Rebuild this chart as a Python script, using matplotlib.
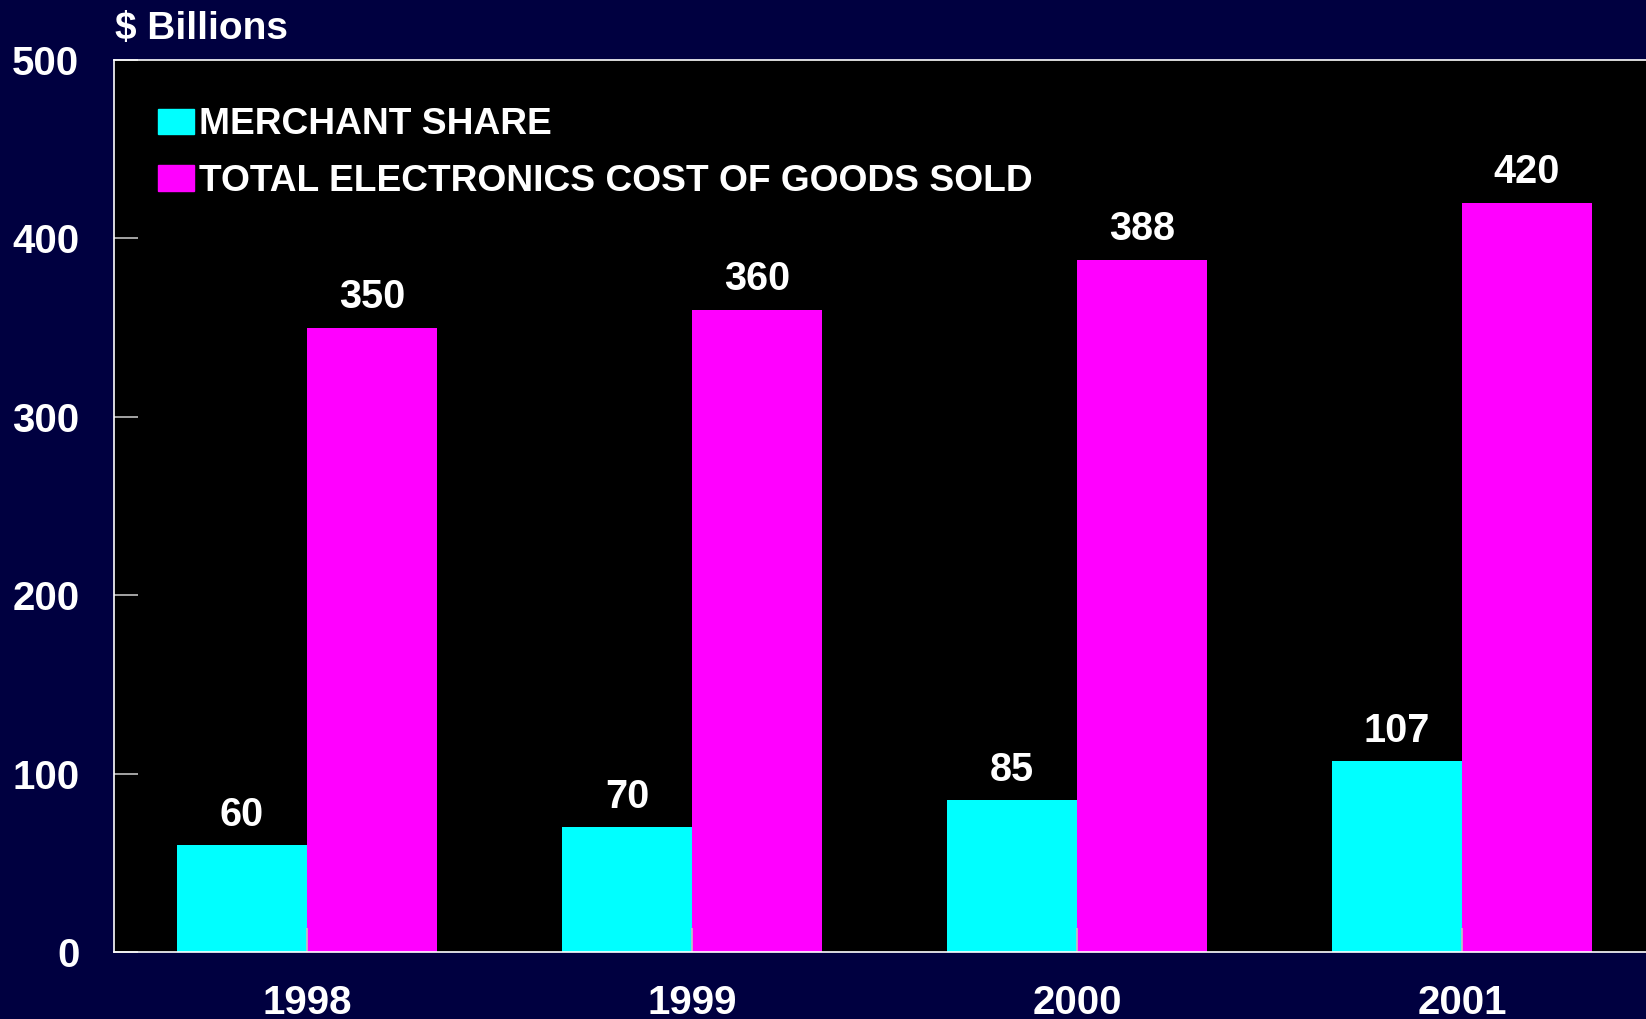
import numpy as np
import matplotlib.pyplot as plt
from matplotlib.patches import Patch

years = ['1998', '1999', '2000', '2001']
merchant = [60, 70, 85, 107]
total_cogs = [350, 360, 388, 420]
labels = ['MERCHANT SHARE', 'TOTAL ELECTRONICS COST OF GOODS SOLD']

plt.rcParams['font.family'] = 'Liberation Sans'
plt.rcParams['font.weight'] = 'bold'

bg = '#000040'
c1 = '#00FFFF'
c2 = '#FF00FF'

fig = plt.figure(figsize=(16.46, 10.19), dpi=100, facecolor=bg)
ax = fig.add_axes([114/1646, 1-952/1019, 1-114/1646, (952-60)/1019])
ax.set_facecolor('black')

x = np.arange(len(years))
w = 0.337
b1 = ax.bar(x - w/2, merchant, w, color=c1)
b2 = ax.bar(x + w/2, total_cogs, w, color=c2)

for bars, vals in [(b1, merchant), (b2, total_cogs)]:
    for r, v in zip(bars, vals):
        ax.annotate(str(v), (r.get_x() + r.get_width()/2, v), xytext=(0, 14),
                    textcoords='offset points', ha='center', va='baseline',
                    color='white', fontsize=28.5, fontweight='bold')

ax.set_xlim(-0.501, 3.478)
ax.set_ylim(0, 500)
ax.set_yticks([0, 100, 200, 300, 400, 500])
ax.set_xticks(x)
ax.set_xticklabels(years)
ax.tick_params(axis='y', direction='in', length=17, width=1.2, color='#C0C0C0',
               labelsize=29, labelcolor='white', pad=25)
ax.tick_params(axis='x', direction='in', length=17, width=1.2, color='#C0C0C0',
               labelsize=29, labelcolor='white', pad=23)
for s in ['left', 'bottom', 'top']:
    ax.spines[s].set_color('white')
    ax.spines[s].set_linewidth(1.2)
ax.spines['right'].set_visible(False)

handles = [Patch(color=c1), Patch(color=c2)]
leg = ax.legend(handles, labels, loc='upper left', bbox_to_anchor=(0.012, 0.976),
                frameon=False, fontsize=26.7, handlelength=0.95, handleheight=0.68,
                handletextpad=0.15, labelspacing=0.58, borderaxespad=0.3)
for t in leg.get_texts():
    t.set_color('white')
    t.set_fontweight('bold')

fig.text(115/1646, 1-39/1019, '$ Billions', color='white', fontsize=28,
         fontweight='bold', va='baseline', ha='left')

fig.savefig('out.png', facecolor=bg)
